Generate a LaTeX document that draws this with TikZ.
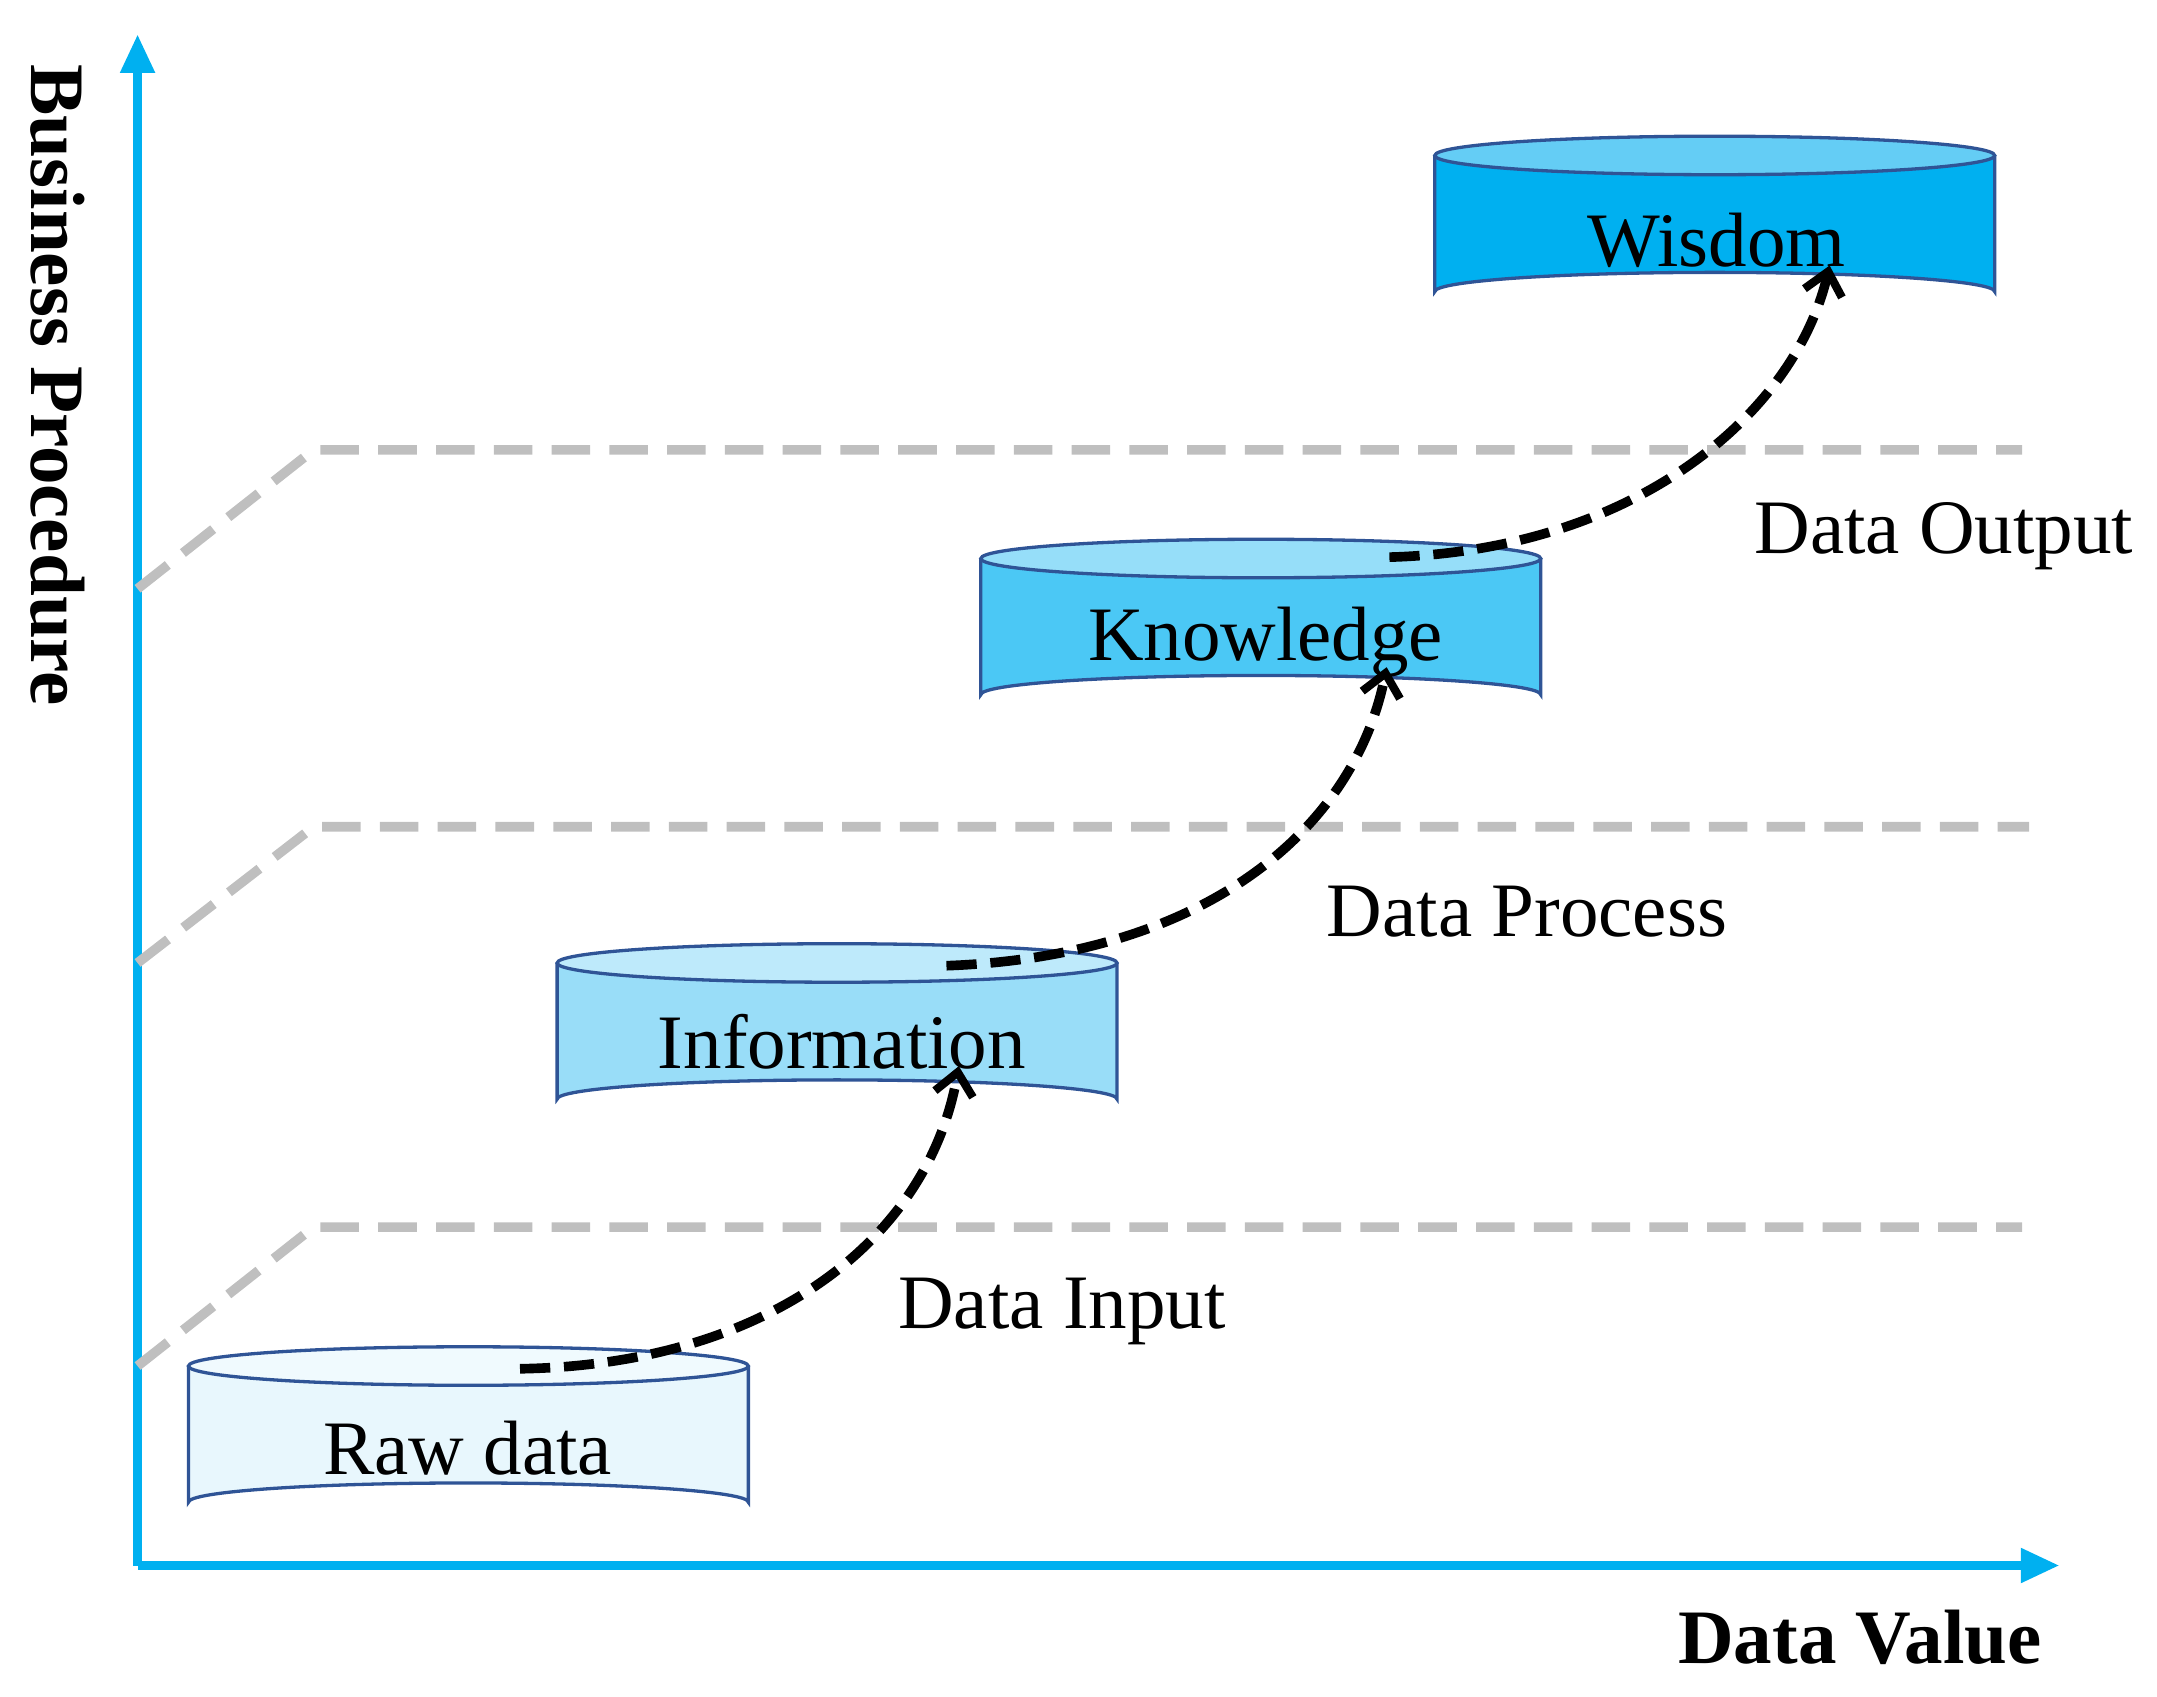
\documentclass[tikz,border=0pt]{standalone}
\usepackage{fontspec}
\setmainfont{Liberation Serif}
\usetikzlibrary{arrows.meta}
\definecolor{axc}{RGB}{0,176,240}
\definecolor{bord}{RGB}{47,84,150}
\definecolor{gr}{RGB}{191,191,191}
\definecolor{c1}{RGB}{232,247,253}
\definecolor{c1t}{RGB}{240,250,254}
\definecolor{c2}{RGB}{153,221,248}
\definecolor{c2t}{RGB}{190,234,251}
\definecolor{c3}{RGB}{75,200,245}
\definecolor{c3t}{RGB}{150,222,249}
\definecolor{c4}{RGB}{0,176,240}
\definecolor{c4t}{RGB}{100,205,245}
\begin{document}
\begin{tikzpicture}[x=0.5pt,y=-0.5pt,
  axis/.style={draw=axc,line width=3pt,-{Triangle[length=14pt,width=12pt]}},
  lvl/.style={draw=gr,line width=3.5pt,dash pattern=on 14pt off 7pt},
  flow/.style={draw=black,line width=3.5pt,dash pattern=on 11pt off 5pt,-{Straight Barb[length=8pt,width=14pt,line width=3pt]}},
  lbl/.style={font=\fontsize{28}{32}\selectfont,inner sep=0pt},
  cyl/.style={draw=bord,line width=1.2pt}]
\useasboundingbox (0,0) rectangle (1568,1233);
% axes
\coordinate (o) at (100,1138);
\coordinate (ytop) at (100,25);
\coordinate (xend) at (1497,1138);
\draw[axis] (o) -- (ytop);
\draw[axis] (o) -- (xend);
\node[lbl,font=\fontsize{28}{32}\selectfont\bfseries,rotate=-90] (bp) at (42,280) {Business Procedure};
\node[lbl,font=\fontsize{28}{32}\selectfont\bfseries] (dv) at (1352,1190) {Data Value};
% levels
\draw[lvl] (100,428) -- (228,327) -- (1470,327);
\draw[lvl] (100,700) -- (228,601) -- (1475,601);
\draw[lvl] (100,993) -- (228,892) -- (1470,892);
% cylinders: #1 left x, #2 top y, #3 fill, #4 top fill
\newcommand\mycyl[4]{%
  \fill[#3] (#1,#2) -- (#1,#2+99) arc[start angle=180,end angle=360,x radius=203.5,y radius=14] -- (#1+407,#2) -- cycle;
  \draw[cyl] (#1,#2) -- (#1,#2+99) arc[start angle=180,end angle=360,x radius=203.5,y radius=14] -- (#1+407,#2);
  \draw[cyl,fill=#4] (#1+203.5,#2) ellipse[x radius=203.5,y radius=14];}
\mycyl{137}{993}{c1}{c1t}
\mycyl{405}{700}{c2}{c2t}
\mycyl{713}{406}{c3}{c3t}
\mycyl{1043}{113}{c4}{c4t}
\node[lbl] (raw) at (340,1053) {Raw data};
\node[lbl] (inf) at (612,757) {Information};
\node[lbl] (kno) at (920,467) {Knowledge};
\node[lbl] (wis) at (1248,175) {Wisdom};
\node[lbl] (din) at (772,953) {Data Input};
\node[lbl] (dpr) at (1110,663) {Data Process};
\node[lbl] (dou) at (1413,390) {Data Output};
% flows
\coordinate (a1) at (378,995); \coordinate (b1) at (697,775);
\coordinate (a2) at (688,702); \coordinate (b2) at (1008,485);
\coordinate (a3) at (1010,405); \coordinate (b3) at (1330,193);
\draw[flow] (a1) .. controls (560,992) and (675,900) .. (b1);
\draw[flow] (a2) .. controls (880,695) and (985,600) .. (b2);
\draw[flow] (a3) .. controls (1190,400) and (1305,300) .. (b3);
\end{tikzpicture}
\end{document}
